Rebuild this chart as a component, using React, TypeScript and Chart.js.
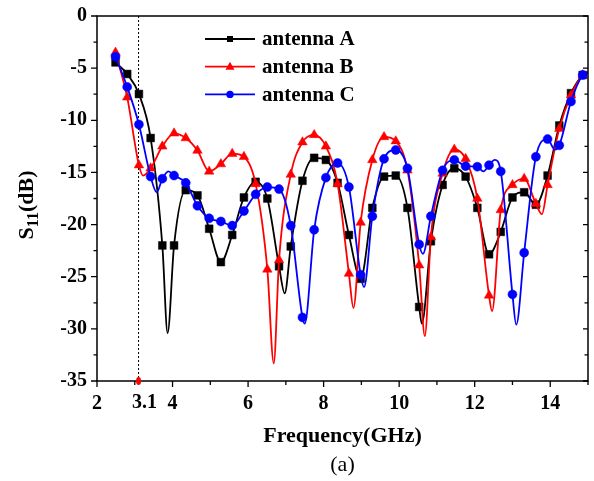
import React, { useEffect, useRef } from "react";
import { Chart, registerables } from "chart.js";

Chart.register(...registerables);

// Marker frequencies (GHz), shared by the three curves
const FREQ = [
  2.49, 2.8, 3.11, 3.42, 3.73, 4.04, 4.35, 4.66, 4.97, 5.28, 5.58, 5.89, 6.2, 6.51,
  6.82, 7.13, 7.44, 7.75, 8.06, 8.37, 8.67, 8.98, 9.29, 9.6, 9.91, 10.22, 10.53,
  10.84, 11.15, 11.46, 11.76, 12.07, 12.38, 12.69, 13.0, 13.31, 13.62, 13.93,
  14.24, 14.55, 14.86,
];

const S11_A = [
  -4.45, -5.56, -7.48, -11.7, -22.0, -22.0, -16.7, -17.2, -20.4, -23.6, -21.0,
  -17.4, -15.9, -17.5, -24.0, -22.1, -15.8, -13.6, -13.8, -16.0, -21.0, -25.2,
  -18.4, -15.4, -15.3, -18.4, -27.9, -21.6, -16.2, -14.6, -15.4, -18.4, -22.85,
  -20.7, -17.4, -16.9, -18.1, -15.3, -10.5, -7.4, -5.66,
];
const S11_B = [
  -3.5, -7.8, -14.3, -14.6, -12.5, -11.25, -11.7, -12.9, -14.9, -14.2, -13.2,
  -13.5, -16.1, -24.3, -23.4, -15.2, -12.1, -11.4, -12.5, -16.1, -24.7, -19.8,
  -13.8, -11.6, -12.0, -14.8, -23.9, -21.2, -15.1, -12.8, -13.7, -17.5, -26.8,
  -18.6, -16.2, -15.6, -18.0, -16.2, -10.8, -7.6, -5.66,
];
const S11_C = [
  -3.9, -6.8, -10.4, -15.4, -15.6, -15.3, -16.0, -18.2, -19.4, -19.7, -20.1,
  -18.7, -17.1, -16.4, -16.6, -20.1, -28.9, -20.5, -15.5, -14.1, -16.4, -24.8,
  -19.2, -13.7, -12.85, -14.6, -21.9, -19.2, -14.8, -13.8, -14.4, -14.45, -14.3,
  -14.9, -26.7, -22.7, -13.5, -11.8, -12.4, -8.2, -5.66,
];

// Additional curve points without markers (resonance dips, end of sweep)
const EXTRA_A_FREQ = [3.87, 6.97, 10.6, 15.0];
const EXTRA_A = [-30.4, -26.6, -29.5, -5.4];
const EXTRA_B_FREQ = [3.22, 6.68, 8.79, 10.68, 12.46, 13.78, 15.0];
const EXTRA_B = [-15.3, -33.3, -28.0, -30.7, -28.3, -19.0, -5.4];
const EXTRA_C_FREQ = [3.58, 3.89, 7.5, 9.07, 10.63, 12.23, 12.53, 13.1, 14.12, 15.0];
const EXTRA_C = [-16.9, -14.9, -29.5, -26.0, -22.8, -14.9, -13.8, -29.6, -12.8, -5.4];

const SERIES_NAMES = ["antenna A", "antenna B", "antenna C"];
const SERIES_COLORS = ["#000000", "#ff0000", "#0000ff"];
const SERIES_STYLES = ["rect", "triangle", "circle"];

const X_MAJOR = [2, 4, 6, 8, 10, 12, 14];
const X_MINOR = [3, 5, 7, 9, 11, 13, 15];
const Y_MAJOR = [0, -5, -10, -15, -20, -25, -30, -35];
const Y_MINOR = [-2.5, -7.5, -12.5, -17.5, -22.5, -27.5, -32.5];
const MARK_FREQ = 3.1;
const MARK_LABEL = "3.1";

const SERIF = '"Liberation Serif", "Times New Roman", serif';

type P = { x: number; y: number; m: boolean };

function buildSeries(freq: number[], vals: number[], exF: number[], exV: number[]): P[] {
  const pts: P[] = freq
    .map((f, i) => ({ x: f, y: vals[i], m: true }))
    .concat(exF.map((f, i) => ({ x: f, y: exV[i], m: false })));
  pts.sort((a, b) => a.x - b.x);
  return pts;
}

const originPlugin = {
  id: "originAxes",
  beforeDatasetsDraw(chart: any) {
    const { ctx, chartArea: a, scales } = chart;
    const xp = scales.x.getPixelForValue(MARK_FREQ);
    ctx.save();
    ctx.strokeStyle = "#000";
    ctx.lineWidth = 1;
    ctx.setLineDash([2, 2]);
    ctx.beginPath();
    ctx.moveTo(xp, a.top);
    ctx.lineTo(xp, a.bottom);
    ctx.stroke();
    ctx.restore();
  },
  afterDatasetsDraw(chart: any) {
    const { ctx, chartArea: a, scales } = chart;
    const xs = scales.x;
    const ys = scales.y;
    ctx.save();
    ctx.strokeStyle = "#000";
    ctx.fillStyle = "#000";
    ctx.lineWidth = 1.5;
    ctx.strokeRect(a.left, a.top, a.right - a.left, a.bottom - a.top);

    ctx.lineWidth = 1.3;
    ctx.beginPath();
    // y ticks: left outward, right inward
    Y_MAJOR.forEach((v) => {
      const p = ys.getPixelForValue(v);
      ctx.moveTo(a.left - 6, p); ctx.lineTo(a.left, p);
      ctx.moveTo(a.right, p); ctx.lineTo(a.right - 5, p);
    });
    Y_MINOR.forEach((v) => {
      const p = ys.getPixelForValue(v);
      ctx.moveTo(a.left - 3.5, p); ctx.lineTo(a.left, p);
      ctx.moveTo(a.right, p); ctx.lineTo(a.right - 3.5, p);
    });
    // x ticks: bottom outward
    X_MAJOR.forEach((v) => {
      const p = xs.getPixelForValue(v);
      ctx.moveTo(p, a.bottom); ctx.lineTo(p, a.bottom + 6);
    });
    X_MINOR.forEach((v) => {
      const p = xs.getPixelForValue(v);
      ctx.moveTo(p, a.bottom); ctx.lineTo(p, a.bottom + 4);
    });
    ctx.stroke();

    // tick labels
    ctx.font = `bold 20px ${SERIF}`;
    ctx.textAlign = "right";
    ctx.textBaseline = "middle";
    Y_MAJOR.forEach((v) => {
      ctx.fillText(String(v), a.left - 10, ys.getPixelForValue(v));
    });
    ctx.textAlign = "center";
    X_MAJOR.forEach((v) => {
      ctx.fillText(String(v), xs.getPixelForValue(v), a.bottom + 23);
    });
    ctx.fillText(MARK_LABEL, xs.getPixelForValue(MARK_FREQ) + 6, a.bottom + 22);

    // red marker at 3.1 GHz on the axis
    ctx.fillStyle = "#ff0000";
    ctx.beginPath();
    ctx.ellipse(xs.getPixelForValue(MARK_FREQ), a.bottom, 2.5, 4, 0, 0, Math.PI * 2);
    ctx.fill();

    // axis titles
    ctx.fillStyle = "#000";
    ctx.font = `bold 22px ${SERIF}`;
    ctx.textAlign = "center";
    ctx.fillText("Frequency(GHz)", (a.left + a.right) / 2, 436);
    ctx.font = `22px ${SERIF}`;
    ctx.fillText("(a)", (a.left + a.right) / 2, 465);

    // rotated S11(dB)
    ctx.save();
    ctx.translate(26, 205);
    ctx.rotate(-Math.PI / 2);
    const big = `bold 22px ${SERIF}`;
    const small = `bold 16px ${SERIF}`;
    ctx.font = big;
    const wS = ctx.measureText("S").width;
    const wT = ctx.measureText("(dB)").width;
    ctx.font = small;
    const w11 = ctx.measureText("11").width;
    const total = wS + w11 + wT;
    let x0 = -total / 2;
    ctx.textAlign = "left";
    ctx.textBaseline = "alphabetic";
    ctx.font = big;
    ctx.fillText("S", x0, 7);
    x0 += wS;
    ctx.font = small;
    ctx.fillText("11", x0, 12);
    x0 += w11;
    ctx.font = big;
    ctx.fillText("(dB)", x0, 7);
    ctx.restore();

    // legend
    SERIES_NAMES.forEach((name, i) => {
      const yy = 39 + i * 27.7;
      const c = SERIES_COLORS[i];
      ctx.strokeStyle = c;
      ctx.fillStyle = c;
      ctx.lineWidth = 1.8;
      ctx.beginPath();
      ctx.moveTo(205, yy);
      ctx.lineTo(255, yy);
      ctx.stroke();
      ctx.beginPath();
      if (SERIES_STYLES[i] === "rect") {
        ctx.rect(227, yy - 3, 6, 6);
      } else if (SERIES_STYLES[i] === "triangle") {
        ctx.moveTo(230, yy - 5);
        ctx.lineTo(234.5, yy + 3);
        ctx.lineTo(225.5, yy + 3);
        ctx.closePath();
      } else {
        ctx.arc(230, yy, 3.7, 0, Math.PI * 2);
      }
      ctx.fill();
      ctx.fillStyle = "#000";
      ctx.font = `bold 21px ${SERIF}`;
      ctx.textAlign = "left";
      ctx.textBaseline = "middle";
      ctx.fillText(name, 262, yy + 1);
    });
    ctx.restore();
  },
};

export default function App() {
  const ref = useRef<HTMLCanvasElement | null>(null);

  useEffect(() => {
    if (!ref.current) return;
    const seriesData = [
      buildSeries(FREQ, S11_A, EXTRA_A_FREQ, EXTRA_A),
      buildSeries(FREQ, S11_B, EXTRA_B_FREQ, EXTRA_B),
      buildSeries(FREQ, S11_C, EXTRA_C_FREQ, EXTRA_C),
    ];
    const radii = [5.5, 5.5, 4.5];
    const chart = new Chart(ref.current, {
      type: "line",
      data: {
        datasets: seriesData.map((pts, i) => ({
          label: SERIES_NAMES[i],
          data: pts as any,
          borderColor: SERIES_COLORS[i],
          backgroundColor: SERIES_COLORS[i],
          borderWidth: 1.8,
          pointStyle: SERIES_STYLES[i] as any,
          pointRadius: (c: any) => (c.raw && c.raw.m ? radii[i] : 0),
          pointBorderWidth: 0.5,
          pointBackgroundColor: SERIES_COLORS[i],
          pointBorderColor: SERIES_COLORS[i],
          cubicInterpolationMode: "monotone" as const,
          fill: false,
          order: 3 - i,
        })),
      },
      options: {
        animation: false,
        responsive: false,
        devicePixelRatio: 1,
        layout: { padding: { left: 97, right: 6, top: 16, bottom: 100 } },
        scales: {
          x: { type: "linear", min: 2, max: 15, display: false },
          y: { type: "linear", min: -35, max: 0, display: false },
        },
        plugins: { legend: { display: false }, tooltip: { enabled: false } },
        events: [],
      },
      plugins: [originPlugin],
    });
    return () => chart.destroy();
  }, []);

  return (
    <div style={{ position: "absolute", left: 0, top: 0, width: 594, height: 481, background: "#fff" }}>
      <canvas ref={ref} width={594} height={481} />
    </div>
  );
}
